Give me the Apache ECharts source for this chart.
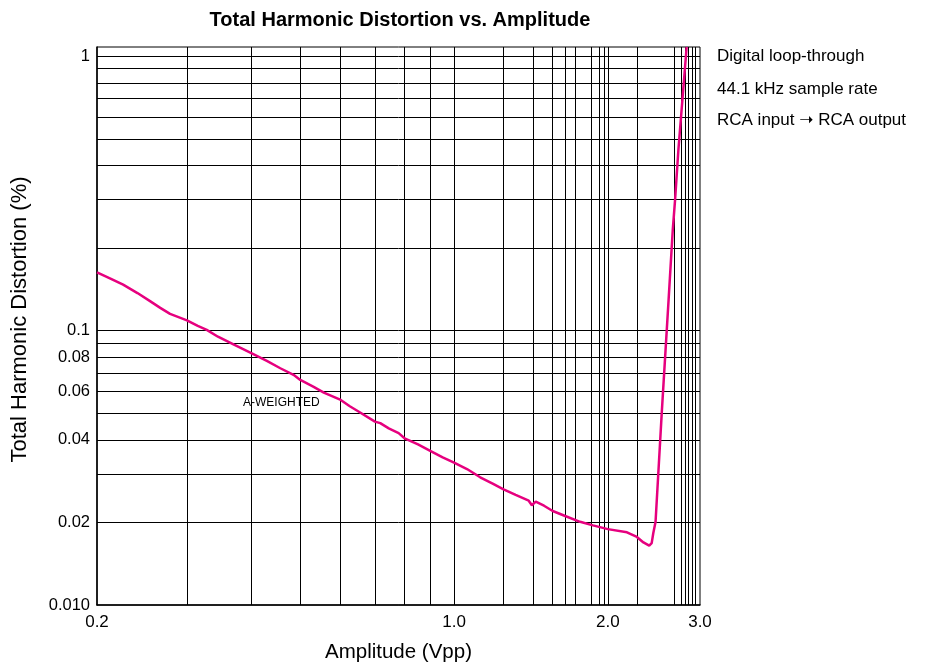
<!DOCTYPE html>
<html>
<head>
<meta charset="utf-8">
<script src="https://cdn.jsdelivr.net/npm/echarts@6/dist/echarts.min.js"></script>
<style>
html,body{margin:0;padding:0;background:#fff;}
#chart{width:926px;height:670px;}
</style>
</head>
<body>
<div id="chart"></div>
<script>
// Amplitude (Vpp) values of the measured curve
const amplitude = [0.200,0.212,0.225,0.240,0.254,0.266,0.278,0.300,0.315,0.328,0.345,0.370,0.400,0.430,0.457,0.485,0.500,0.530,0.556,0.600,0.625,0.650,0.700,0.717,0.745,0.779,0.800,0.850,0.900,0.950,1.000,1.060,1.125,1.190,1.250,1.320,1.400,1.420,1.445,1.500,1.560,1.650,1.765,1.870,2.000,2.180,2.280,2.348,2.410,2.437,2.455,2.480,2.511,2.550,2.630,2.680,2.708,2.749,2.853];
// THD (%) values
const thd = [0.163,0.155,0.147,0.137,0.128,0.121,0.115,0.109,0.104,0.1006,0.095,0.089,0.083,0.0775,0.0729,0.0690,0.0661,0.0625,0.0594,0.0559,0.0530,0.0507,0.0466,0.0460,0.0440,0.0423,0.0405,0.0385,0.0364,0.0345,0.0330,0.0313,0.0292,0.0277,0.0264,0.0252,0.0240,0.0231,0.0238,0.0230,0.0220,0.0211,0.0201,0.0195,0.0189,0.0184,0.0177,0.0169,0.01645,0.0168,0.0183,0.0201,0.0302,0.0500,0.1294,0.2329,0.2996,0.456,1.08];

// Axis ranges
const xMin = 0.2, xMax = 3.03;
const yMin = 0.01, yMax = 1.08;

// Grid line values
const xGridValues = [0.3,0.4,0.5,0.6,0.7,0.8,0.9,1.0,1.25,1.43,1.56,1.65,1.73,1.86,1.92,1.97,2.0,2.28,2.7,2.78,2.84,2.88,2.92,2.97];
const yGridValues = [0.02,0.03,0.04,0.05,0.06,0.07,0.08,0.09,0.1,0.2,0.3,0.4,0.5,0.6,0.7,0.8,0.9,1.0];

// Tick labels
const xLabelValues = [0.2,1.0,2.0,3.03];
const xLabelTexts = ['0.2','1.0','2.0','3.0'];
const yLabelValues = [0.01,0.02,0.04,0.06,0.08,0.1,1];
const yLabelTexts = ['0.010','0.02','0.04','0.06','0.08','0.1','1'];

// Texts
const titleText = 'Total Harmonic Distortion vs. Amplitude';
const xName = 'Amplitude (Vpp)';
const yName = 'Total Harmonic Distortion (%)';
const notes = ['Digital loop-through','44.1 kHz sample rate','RCA input \u279D RCA output'];
const curveLabel = 'A-WEIGHTED';

function lookup(vals, texts, v){
  for (let i=0;i<vals.length;i++){ if (Math.abs(vals[i]-v)/vals[i] < 1e-3) return texts[i]; }
  return '';
}

const FONT = '"Liberation Sans", Arial, "DejaVu Sans", sans-serif';
const chart = echarts.init(document.getElementById('chart'), null, {renderer:'canvas'});

const graphics = [
  {type:'text', x:400, y:20, style:{text:titleText, font:'bold 20px '+FONT, fill:'#000', textAlign:'center', textVerticalAlign:'middle'}},
  {type:'text', x:243, y:403, style:{text:curveLabel, font:'12px '+FONT, fill:'#000', textAlign:'left', textVerticalAlign:'middle'}}
];
const noteY = [56, 89, 120];
notes.forEach((t,i)=>{
  graphics.push({type:'text', x:717, y:noteY[i], style:{text:t, font:'17px '+FONT, fill:'#000', textAlign:'left', textVerticalAlign:'middle'}});
});

chart.setOption({
  animation:false,
  backgroundColor:'#fff',
  textStyle:{fontFamily:FONT},
  grid:{left:97, right:226, top:47, bottom:65, show:true, borderColor:'#000', borderWidth:1, containLabel:false},
  xAxis:{
    type:'log', logBase:10, min:xMin, max:xMax,
    name:xName, nameLocation:'middle', nameGap:37,
    nameTextStyle:{fontSize:20.5, color:'#000', fontFamily:FONT},
    axisLine:{show:true, lineStyle:{color:'#000', width:1.5}},
    axisTick:{show:false, customValues:xGridValues},
    splitLine:{show:true, lineStyle:{color:'#000', width:1}},
    minorSplitLine:{show:false},
    axisLabel:{customValues:xLabelValues, fontSize:17, color:'#000', margin:9, fontFamily:FONT,
      formatter:function(v){return lookup(xLabelValues, xLabelTexts, v);}}
  },
  yAxis:{
    type:'log', logBase:10, min:yMin, max:yMax,
    name:yName, nameLocation:'middle', nameGap:66, nameRotate:90,
    nameTextStyle:{fontSize:22, color:'#000', fontFamily:FONT, padding:[0,0,0,13]},
    axisLine:{show:true, lineStyle:{color:'#000', width:1.5}},
    axisTick:{show:false, customValues:yGridValues},
    splitLine:{show:true, lineStyle:{color:'#000', width:1}},
    axisLabel:{customValues:yLabelValues, fontSize:16.5, color:'#000', margin:7, fontFamily:FONT,
      formatter:function(v){return lookup(yLabelValues, yLabelTexts, v);}}
  },
  series:[{
    type:'line',
    data:amplitude.map((a,i)=>[a, thd[i]]),
    showSymbol:false, symbol:'none', smooth:false, clip:true,
    lineStyle:{color:'#e6007e', width:2.5},
    z:5
  }],
  graphic:graphics
});
</script>
</body>
</html>
